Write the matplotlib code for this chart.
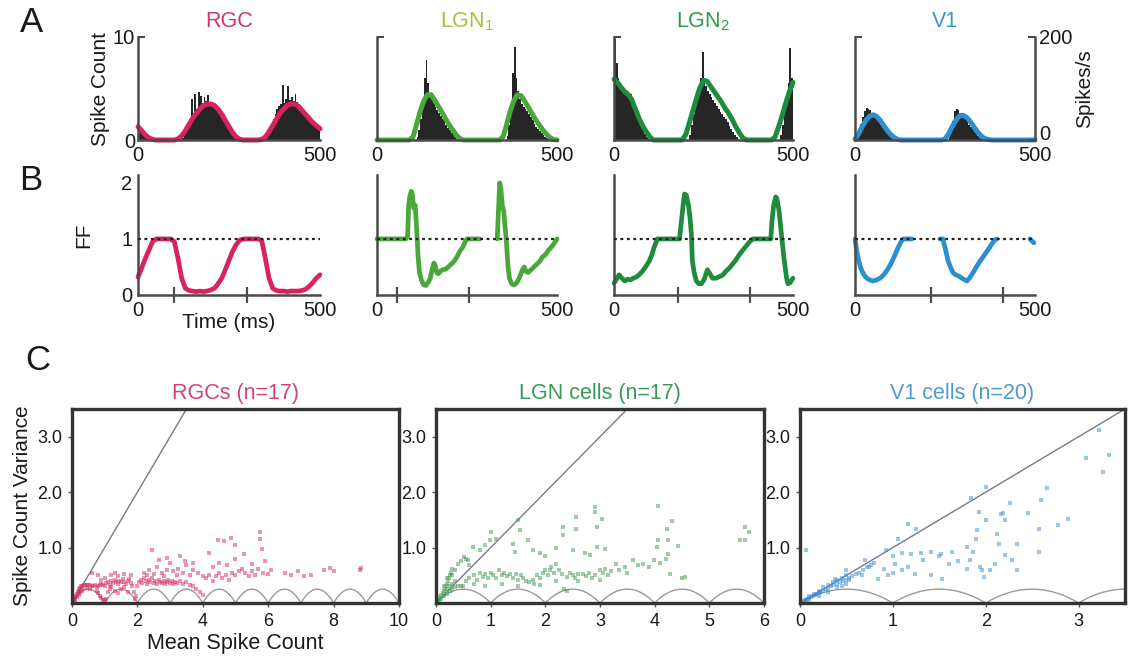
import numpy as np
import matplotlib
matplotlib.use('Agg')
import matplotlib.pyplot as plt

plt.rcParams['font.family'] = ['Liberation Sans', 'DejaVu Sans']
plt.rcParams['mathtext.default'] = 'regular'

# ---------------- data ----------------
cells = ['RGC', 'LGN$_1$', 'LGN$_2$', 'V1']
line_cols = ['#d8245a', '#4aa83a', '#1e8c3c', '#2c8fd0']
title_cols = ['#d6336a', '#a5c23a', '#2d9a4e', '#3a97cf']

# Panel A: PSTH (5 ms bins, spike count) and smoothed rate (10 ms steps)
hist_rgc = ([1.5, 1.3, 1.0, 0.8, 0.5, 0.3, 0.2, 0.1] + [0] * 16 +
            [0.2, 0.6, 1.0, 1.5, 2.0, 4.0, 2.6, 4.5, 3.0, 4.7, 4.3, 3.6, 4.2, 3.8, 4.4, 3.6,
             3.7, 3.4, 3.2, 3.0, 2.8, 2.6, 2.3, 2.5, 1.8, 1.4, 1.0, 0.7, 0.4, 0.2, 0.1, 0.05] +
            [0] * 14 +
            [0.2, 0.5, 1.0, 1.5, 2.0, 2.5, 3.0, 3.3, 3.5, 5.3, 3.6, 4.0, 5.2, 3.9, 4.2, 3.8,
             4.5, 3.7, 3.5, 3.3, 3.0, 2.7, 2.5, 2.2, 2.0, 1.8, 1.6, 1.4, 1.3, 1.0])
hist_lgn1 = ([0] * 22 +
             [0.3, 1.0, 2.0, 3.5, 6.0, 7.8, 5.5, 4.5, 4.0, 3.6, 3.2, 2.9, 2.6, 2.3, 2.0, 1.8,
              1.5, 1.2, 1.0, 0.7, 0.5, 0.3, 0.1] + [0] * 27 +
             [0.4, 1.5, 3.0, 6.5, 9.0, 6.0, 4.8, 4.0, 3.5, 3.2, 3.0, 2.8, 2.5, 2.2, 1.9, 1.6,
              1.3, 1.1, 0.9, 0.7, 0.5, 0.3, 0.15, 0.05] + [0] * 4)
hist_lgn2 = ([9.8, 7.5, 6.0, 5.5, 5.0, 4.8, 4.6, 4.4, 4.2, 4.5, 3.8, 3.3, 2.8, 2.3, 1.8, 1.3,
              0.9, 0.6, 0.3, 0.1] + [0] * 22 +
             [0.5, 1.5, 2.5, 3.5, 4.3, 5.0, 6.0, 8.5, 6.0, 5.2, 4.8, 4.5, 4.2, 3.9, 3.6, 3.3,
              3.0, 2.7, 2.5, 2.2, 2.0, 1.7, 1.4, 1.1, 0.8, 0.5, 0.3, 0.1] + [0] * 23 +
             [0.5, 1.5, 2.8, 4.0, 5.5, 8.9, 6.0])
hist_v1 = ([0.3, 0.8, 1.2, 1.6, 2.2, 2.8, 3.1, 3.0, 2.9, 2.6, 2.4, 2.2, 2.0, 1.7, 1.5, 1.2,
            1.0, 0.8, 0.6, 0.4, 0.3, 0.15, 0.05] + [0] * 29 +
           [0.3, 0.9, 1.8, 2.8, 3.0, 2.9, 2.6, 2.4, 2.3, 2.1, 1.8, 1.5, 1.3, 1.1, 0.8, 0.6,
            0.4, 0.2, 0.1] + [0] * 29)

rate_rgc = [1.3, 0.9, 0.5, 0.2, 0.05, 0, 0, 0, 0, 0, 0, 0.1, 0.4, 0.9, 1.5, 2.1, 2.6, 3.0,
            3.35, 3.5, 3.5, 3.35, 3.0, 2.5, 1.9, 1.3, 0.7, 0.3, 0.05, 0, 0, 0, 0, 0, 0.05,
            0.3, 0.8, 1.4, 2.0, 2.6, 3.0, 3.35, 3.5, 3.5, 3.3, 2.9, 2.5, 2.1, 1.7, 1.4, 1.1]
rate_lgn1 = ([0] * 10 + [0.3, 1.5, 2.8, 3.8, 4.4, 4.4, 3.9, 3.3, 2.7, 2.1, 1.5, 1.0, 0.5, 0.15, 0] +
             [0] * 10 + [0.3, 1.5, 2.8, 3.8, 4.4, 4.3, 3.8, 3.2, 2.6, 2.0, 1.5, 1.0, 0.6, 0.25,
                         0.05, 0])
rate_lgn2 = ([5.9, 5.6, 5.1, 4.7, 4.4, 3.9, 3.0, 2.1, 1.4, 0.8, 0.3, 0] + [0] * 8 +
             [0.5, 1.6, 2.8, 4.0, 5.1, 5.8, 5.7, 5.2, 4.7, 4.2, 3.7, 3.1, 2.6, 2.0, 1.3, 0.7,
              0.2, 0] + [0] * 7 + [0.3, 1.3, 2.4, 3.6, 4.7, 5.6])
rate_v1 = ([0.1, 0.6, 1.3, 1.9, 2.3, 2.45, 2.3, 1.9, 1.4, 0.9, 0.5, 0.2, 0.05] + [0] * 12 +
           [0.1, 0.6, 1.3, 1.9, 2.35, 2.4, 2.2, 1.8, 1.3, 0.8, 0.4, 0.15, 0.05] + [0] * 13)

hists = [hist_rgc, hist_lgn1, hist_lgn2, hist_v1]
rates = [rate_rgc, rate_lgn1, rate_lgn2, rate_v1]
HIST_BIN = 5
RATE_STEP = 10

# Panel B: Fano factor traces (time in ms, FF); nan = gap
ff_t_rgc = list(np.arange(51) * 10)
ff_rgc = [0.32, 0.48, 0.65, 0.8, 0.95, 1.0, 1.0, 1.0, 1.0, 1.0, 0.95, 0.65, 0.3, 0.12, 0.08,
          0.07, 0.06, 0.07, 0.06, 0.07, 0.09, 0.12, 0.2, 0.3, 0.45, 0.62, 0.78, 0.9, 0.98, 1.0,
          1.0, 1.0, 1.0, 1.0, 0.97, 0.65, 0.3, 0.12, 0.08, 0.07, 0.07, 0.06, 0.07, 0.07, 0.07,
          0.08, 0.1, 0.15, 0.22, 0.3, 0.36]
ff_t_lgn1 = [0, 20, 40, 60, 80, 85, 88, 91, 95, 98, 102, 106, 110, 114, 118, 124, 130, 136,
             142, 148, 153, 158, 162, 166, 170, 176, 182, 190, 198, 206, 214, 222, 230, 238,
             245, 250, 260, 270, 285, 300, 334, 338, 341, 344, 348, 352, 356, 360, 364, 368,
             374, 380, 386, 392, 398, 404, 409, 414, 420, 428, 436, 444, 452, 460, 468, 476,
             484, 492, 500]
ff_lgn1 = [1.0, 1.0, 1.0, 1.0, 1.0, 1.05, 1.6, 1.75, 1.85, 1.8, 1.55, 1.6, 1.2, 0.7, 0.4,
           0.25, 0.18, 0.17, 0.22, 0.3, 0.45, 0.57, 0.52, 0.4, 0.38, 0.42, 0.45, 0.46, 0.5,
           0.55, 0.6, 0.68, 0.78, 0.85, 0.95, 1.0, 1.0, 1.0, 1.0, np.nan, 1.0, 1.6, 2.0, 1.9,
           1.6, 1.5, 1.2, 0.9, 0.5, 0.3, 0.2, 0.18, 0.2, 0.26, 0.35, 0.45, 0.5, 0.42, 0.4,
           0.45, 0.5, 0.55, 0.6, 0.68, 0.72, 0.8, 0.85, 0.92, 1.0]
ff_t_lgn2 = [0, 7, 14, 22, 30, 38, 46, 54, 62, 70, 79, 88, 98, 106, 112, 117, 121, 130, 150,
             170, 183, 188, 193, 197, 202, 208, 212, 216, 219, 224, 230, 237, 244, 252, 261,
             268, 275, 285, 295, 303, 312, 322, 331, 340, 350, 360, 370, 379, 388, 400, 420,
             438, 441, 446, 452, 455, 461, 465, 469, 474, 478, 482, 486, 492, 500]
ff_lgn2 = [0.21, 0.28, 0.36, 0.3, 0.25, 0.28, 0.27, 0.3, 0.32, 0.36, 0.42, 0.5, 0.6, 0.72,
           0.85, 0.93, 1.0, 1.0, 1.0, 1.0, 1.0, 1.3, 1.6, 1.8, 1.78, 1.6, 1.4, 1.1, 0.6, 0.4,
           0.25, 0.2, 0.2, 0.28, 0.45, 0.38, 0.3, 0.3, 0.33, 0.35, 0.42, 0.48, 0.55, 0.62,
           0.72, 0.8, 0.88, 0.95, 1.0, 1.0, 1.0, 1.0, 1.3, 1.6, 1.75, 1.72, 1.5, 1.25, 1.0,
           0.7, 0.5, 0.3, 0.2, 0.22, 0.3]
ff_t_v1 = [0, 5, 10, 15, 20, 27, 33, 40, 50, 60, 70, 80, 90, 100, 110, 120, 128, 134, 145,
           158, 200, 236, 244, 250, 258, 265, 272, 280, 290, 297, 305, 311, 318, 328, 337, 347,
           358, 369, 379, 388, 394, 440, 486, 492, 497]
ff_v1 = [1.0, 0.78, 0.62, 0.5, 0.42, 0.34, 0.3, 0.27, 0.25, 0.27, 0.3, 0.36, 0.45, 0.56, 0.7,
         0.85, 0.95, 1.0, 1.0, 1.0, np.nan, 1.0, 1.0, 0.85, 0.62, 0.5, 0.4, 0.36, 0.33, 0.3,
         0.27, 0.25, 0.3, 0.4, 0.5, 0.6, 0.7, 0.8, 0.9, 0.98, 1.0, np.nan, 1.0, 0.96, 0.93]
ff_ts = [ff_t_rgc, ff_t_lgn1, ff_t_lgn2, ff_t_v1]
ffs = [ff_rgc, ff_lgn1, ff_lgn2, ff_v1]
cycle_marks = [[100, 300], [55, 255], [180, 380], [210, 410]]

# Panel C: mean vs variance of spike counts
rgc_points = [
    (0.02, 0.01), (0.04, 0.03), (0.06, 0.06), (0.08, 0.08), (0.1, 0.1), (0.12, 0.13), (0.15, 0.16),
    (0.18, 0.2), (0.2, 0.22), (0.22, 0.25), (0.25, 0.27), (0.28, 0.3), (0.32, 0.31), (0.36, 0.32),
    (0.4, 0.33), (0.45, 0.33), (0.5, 0.32), (0.55, 0.33), (0.6, 0.31), (0.65, 0.3), (0.7, 0.32),
    (0.1, 0.05), (0.15, 0.1), (0.2, 0.14), (0.25, 0.18), (0.3, 0.22), (0.35, 0.25), (0.45, 0.27),
    (0.55, 0.26), (0.75, 0.22), (0.8, 0.18), (0.85, 0.13), (0.9, 0.09), (0.95, 0.06), (1.0, 0.05),
    (1.05, 0.08), (0.75, 0.28), (0.8, 0.3), (0.85, 0.33), (0.9, 0.35), (0.95, 0.32), (1.0, 0.3),
    (1.05, 0.36), (1.1, 0.38), (1.15, 0.33), (1.2, 0.4), (1.25, 0.36), (1.3, 0.42), (1.35, 0.38),
    (1.4, 0.35), (1.45, 0.4), (1.5, 0.37), (1.55, 0.43), (1.6, 0.38), (1.65, 0.35), (1.7, 0.4),
    (1.75, 0.44), (1.8, 0.36), (1.85, 0.3), (1.9, 0.2), (1.95, 0.12), (1.92, 0.08), (1.1, 0.2),
    (1.15, 0.25), (1.2, 0.28), (1.3, 0.22), (1.4, 0.18), (1.5, 0.25), (1.6, 0.28), (1.7, 0.2),
    (0.6, 0.55), (0.8, 0.5), (1.0, 0.45), (1.2, 0.5), (1.4, 0.48), (1.6, 0.52), (1.8, 0.5),
    (0.9, 0.42), (1.3, 0.55), (2.0, 0.3), (2.05, 0.38), (2.1, 0.42), (2.15, 0.36), (2.2, 0.45),
    (2.25, 0.4), (2.3, 0.35), (2.35, 0.42), (2.4, 0.38), (2.45, 0.45), (2.5, 0.36), (2.55, 0.4),
    (2.6, 0.35), (2.65, 0.42), (2.7, 0.38), (2.75, 0.36), (2.8, 0.4), (2.85, 0.34), (2.9, 0.37),
    (2.95, 0.42), (3.0, 0.36), (3.05, 0.4), (3.1, 0.35), (3.15, 0.38), (3.2, 0.36), (3.3, 0.4),
    (3.4, 0.35), (3.5, 0.38), (3.6, 0.33), (3.7, 0.3), (3.8, 0.25), (3.9, 0.2), (4.0, 0.15),
    (2.2, 0.55), (2.35, 0.6), (2.5, 0.52), (2.6, 0.65), (2.75, 0.55), (2.9, 0.6), (3.0, 0.72),
    (3.1, 0.58), (3.25, 0.62), (3.4, 0.55), (3.5, 0.68), (3.6, 0.5), (3.7, 0.6), (3.85, 0.55),
    (4.0, 0.48), (2.45, 0.95), (2.65, 0.78), (2.9, 0.82), (3.3, 0.85), (3.45, 0.75), (3.7, 0.72),
    (2.3, 0.5), (2.8, 0.48), (3.2, 0.5), (4.1, 0.45), (4.2, 0.5), (4.3, 0.4), (4.4, 0.48),
    (4.5, 0.55), (4.6, 0.45), (4.7, 0.5), (4.8, 0.42), (4.9, 0.55), (5.0, 0.5), (5.1, 0.58),
    (5.2, 0.62), (5.3, 0.55), (5.4, 0.48), (5.5, 0.58), (5.6, 0.5), (5.7, 0.62), (5.85, 0.55),
    (6.0, 0.52), (6.1, 0.6), (4.3, 0.65), (4.5, 0.72), (4.75, 0.68), (5.0, 0.8), (5.25, 0.88),
    (5.5, 0.7), (5.9, 0.75), (4.45, 1.14), (4.65, 1.12), (4.85, 1.18), (5.0, 1.05), (5.75, 1.28),
    (5.75, 1.16), (5.8, 0.97), (4.2, 0.9), (6.5, 0.55), (6.7, 0.5), (6.9, 0.58), (7.1, 0.48),
    (7.3, 0.5), (7.7, 0.6), (7.9, 0.64), (8.0, 0.58), (8.85, 0.63), (8.8, 0.6)]
lgn_points = [
    (0.02, 0.02), (0.04, 0.05), (0.06, 0.08), (0.08, 0.1), (0.1, 0.14), (0.12, 0.18), (0.14, 0.22),
    (0.16, 0.25), (0.18, 0.3), (0.2, 0.35), (0.22, 0.4), (0.24, 0.45), (0.26, 0.5), (0.28, 0.55),
    (0.3, 0.62), (0.05, 0.03), (0.1, 0.08), (0.15, 0.12), (0.2, 0.17), (0.25, 0.22), (0.3, 0.25),
    (0.35, 0.28), (0.4, 0.3), (0.45, 0.3), (0.5, 0.3), (0.2, 0.25), (0.25, 0.3), (0.3, 0.35),
    (0.35, 0.4), (0.15, 0.3), (0.2, 0.45), (0.3, 0.5), (0.35, 0.6), (0.4, 0.7), (0.45, 0.75),
    (0.52, 0.83), (0.58, 0.77), (0.61, 0.68), (0.55, 0.8), (0.67, 1.01), (0.98, 1.13), (1.01, 1.28),
    (1.1, 1.16), (1.41, 1.07), (1.44, 0.92), (1.5, 1.49), (1.53, 1.31), (1.68, 1.13), (1.77, 0.95),
    (0.8, 0.95), (0.9, 1.05), (0.55, 0.4), (0.6, 0.45), (0.7, 0.5), (0.75, 0.42), (0.8, 0.55),
    (0.86, 0.47), (0.9, 0.52), (0.95, 0.45), (1.0, 0.55), (1.05, 0.5), (1.1, 0.45), (1.16, 0.59),
    (1.2, 0.5), (1.25, 0.55), (1.3, 0.48), (1.35, 0.52), (1.4, 0.45), (1.47, 0.53), (1.5, 0.42),
    (1.55, 0.5), (1.6, 0.45), (1.65, 0.4), (1.7, 0.38), (1.77, 0.41), (1.8, 0.35), (1.85, 0.5),
    (1.9, 0.45), (1.95, 0.55), (2.0, 0.6), (2.05, 0.5), (2.08, 0.59), (2.1, 0.65), (2.15, 0.55),
    (2.2, 0.71), (2.25, 0.6), (2.3, 0.52), (2.35, 0.25), (2.4, 0.22), (2.39, 0.47), (2.45, 0.55),
    (2.5, 0.5), (2.55, 0.45), (2.6, 0.52), (2.69, 0.53), (2.75, 0.48), (2.8, 0.55), (2.85, 0.45),
    (2.9, 0.5), (3.0, 0.59), (3.05, 0.55), (3.1, 0.62), (3.15, 0.5), (3.2, 0.58), (3.3, 0.71),
    (3.35, 0.6), (3.45, 0.65), (3.5, 0.55), (3.61, 0.77), (3.7, 0.68), (3.79, 0.71), (3.9, 0.65),
    (3.98, 0.77), (4.1, 0.72), (4.2, 0.8), (4.28, 0.53), (4.56, 0.47), (4.5, 0.45), (0.7, 0.35),
    (0.9, 0.3), (1.2, 0.35), (1.5, 0.3), (1.9, 0.32), (2.2, 0.4), (2.6, 0.4), (3.0, 0.42),
    (2.9, 1.73), (2.9, 1.64), (3.03, 1.52), (2.94, 1.37), (2.32, 1.37), (2.32, 1.22), (2.57, 1.55),
    (2.57, 1.33), (2.94, 1.01), (3.09, 0.98), (2.72, 0.9), (2.81, 0.86), (4.07, 1.75), (4.31, 1.48),
    (4.22, 1.34), (4.43, 1.02), (4.25, 1.13), (4.07, 1.13), (4.04, 1.01), (4.25, 0.89), (5.66, 1.37),
    (5.72, 1.28), (5.57, 1.13), (5.66, 1.13), (2.0, 0.85), (2.5, 0.95), (1.9, 0.9), (2.2, 1.0)]
v1_points = [
    (0.02, 0.02), (0.04, 0.04), (0.06, 0.05), (0.08, 0.07), (0.1, 0.09), (0.12, 0.11), (0.14, 0.13),
    (0.16, 0.15), (0.18, 0.16), (0.2, 0.18), (0.22, 0.2), (0.25, 0.22), (0.28, 0.25), (0.3, 0.27),
    (0.33, 0.3), (0.36, 0.32), (0.4, 0.35), (0.43, 0.38), (0.46, 0.4), (0.5, 0.42), (0.53, 0.45),
    (0.56, 0.48), (0.6, 0.52), (0.64, 0.55), (0.68, 0.6), (0.72, 0.65), (0.76, 0.68), (0.8, 0.72),
    (0.05, 0.06), (0.1, 0.12), (0.15, 0.16), (0.2, 0.22), (0.25, 0.28), (0.3, 0.33), (0.35, 0.38),
    (0.4, 0.42), (0.45, 0.46), (0.5, 0.5), (0.1, 0.06), (0.2, 0.12), (0.3, 0.2), (0.4, 0.28),
    (0.45, 0.3), (0.5, 0.35), (0.53, 0.41), (0.38, 0.44), (0.49, 0.59), (0.67, 0.5), (0.7, 0.77),
    (0.74, 0.65), (0.84, 0.44), (0.9, 0.62), (0.93, 0.95), (1.02, 0.71), (1.06, 1.16), (1.16, 1.43),
    (1.25, 1.34), (1.16, 0.65), (1.24, 0.53), (1.32, 0.77), (1.41, 0.92), (1.41, 0.5), (1.52, 0.89),
    (1.53, 0.44), (1.64, 0.92), (1.8, 1.01), (1.83, 0.77), (1.8, 0.62), (1.86, 0.92), (1.89, 1.16),
    (1.91, 1.31), (1.93, 1.64), (1.84, 1.89), (2.0, 2.1), (2.0, 1.49), (1.94, 0.65), (1.96, 0.59),
    (1.98, 0.47), (2.12, 1.25), (2.14, 1.07), (2.16, 1.61), (2.19, 1.63), (2.21, 1.49), (2.21, 0.86),
    (2.26, 1.8), (2.28, 0.77), (2.34, 1.07), (2.34, 0.59), (2.46, 1.63), (2.57, 1.33), (2.57, 0.92),
    (2.6, 1.86), (2.66, 2.07), (2.78, 1.4), (2.89, 1.52), (3.08, 2.61), (3.22, 3.12), (3.26, 2.37),
    (3.33, 2.67), (0.06, 0.95), (1.0, 0.85), (1.1, 0.9), (1.2, 0.88), (1.3, 0.9), (1.5, 0.85),
    (1.6, 0.7), (1.7, 0.75), (2.05, 0.6), (2.1, 0.7), (1.0, 0.55), (1.1, 0.6), (0.95, 0.5)]

c_titles = ['RGCs (n=17)', 'LGN cells (n=17)', 'V1 cells (n=20)']
c_title_cols = ['#d4446e', '#379b55', '#4c9cc9']
c_pt_cols = ['#d92a5c', '#3f9b52', '#3a8ed3']
c_points = [rgc_points, lgn_points, v1_points]
c_xmax = [10, 6, 3.5]
c_xticks = [[0, 2, 4, 6, 8, 10], [0, 1, 2, 3, 4, 5, 6], [0, 1, 2, 3]]
c_yticks = [1.0, 2.0, 3.0]

# ---------------- layout ----------------
W, H = 1128, 656
fig = plt.figure(figsize=(W / 100, H / 100), dpi=100)


def ax_at(l, t, r, b):
    return fig.add_axes([l / W, 1 - b / H, (r - l) / W, (b - t) / H])


SP = '#4a4a4a'
TXT = '#1a1a1a'
FS = 14.5
colx = [(138, 320), (377, 557), (614, 793), (855, 1035)]

for i in range(4):
    l, r = colx[i]
    # ----- panel A -----
    ax = ax_at(l, 37, r, 140)
    h = np.array(hists[i], dtype=float)
    edges = np.arange(len(h)) * HIST_BIN
    ax.bar(edges, h, width=HIST_BIN, align='edge', color='#262626', linewidth=0)
    rt = np.arange(len(rates[i])) * RATE_STEP
    ax.plot(rt, rates[i], color=line_cols[i], lw=3.6, clip_on=False, solid_capstyle='round')
    ax.set_xlim(0, 500)
    ax.set_ylim(0, 10)
    for s in ['top', 'right']:
        ax.spines[s].set_visible(False)
    for s in ['left', 'bottom']:
        ax.spines[s].set_color(SP)
        ax.spines[s].set_linewidth(1.8)
    ax.set_xticks([0, 500])
    ax.set_xticklabels(['0', '500'])
    ax.tick_params(axis='x', length=0, pad=4, labelsize=FS, labelcolor=TXT)
    if i == 0:
        ax.set_yticks([0, 10])
        ax.set_yticklabels(['0', '10'])
        ax.set_ylabel('Spike Count', fontsize=FS + 0.5, color=TXT, labelpad=2)
    else:
        ax.set_yticks([10])
        ax.set_yticklabels([''])
    ax.tick_params(axis='y', direction='in', length=5, width=1.5, color=SP, pad=2,
                   labelsize=FS, labelcolor=TXT)
    ax.set_title(cells[i], color=title_cols[i], fontsize=15.5, pad=7)
    if i == 3:
        tw = ax.twinx()
        tw.set_ylim(0, 200)
        tw.set_yticks([0, 200])
        tw.set_yticklabels(['0', '200'])
        for s in ['top', 'left', 'bottom']:
            tw.spines[s].set_visible(False)
        tw.spines['right'].set_color(SP)
        tw.spines['right'].set_linewidth(1.8)
        tw.tick_params(axis='y', direction='in', length=5, width=1.5, color=SP, pad=3,
                       labelsize=FS, labelcolor=TXT)
        tw.get_yticklabels()[0].set_va('baseline')
        tw.set_ylabel('Spikes/s', fontsize=FS + 0.5, color=TXT, labelpad=2)

    # ----- panel B -----
    bx = ax_at(l, 175, r, 295)
    bx.axhline(1, color='#222222', lw=1.6, ls=(0, (1.3, 1.6)), zorder=3)
    bx.plot(ff_ts[i], ffs[i], color=line_cols[i], lw=3.4, clip_on=False,
            solid_capstyle='round', solid_joinstyle='round', zorder=2)
    bx.set_xlim(0, 500)
    bx.set_ylim(0, 2.14)
    for s in ['top', 'right']:
        bx.spines[s].set_visible(False)
    for s in ['left', 'bottom']:
        bx.spines[s].set_color(SP)
        bx.spines[s].set_linewidth(1.8)
    bx.set_xticks([0, 500])
    bx.set_xticklabels(['0', '500'])
    bx.set_xticks(cycle_marks[i], minor=True)
    bx.tick_params(axis='x', which='major', length=0, pad=4, labelsize=FS, labelcolor=TXT)
    bx.tick_params(axis='x', which='minor', direction='inout', length=12, width=1.6, color=SP)
    if i == 0:
        bx.set_yticks([0, 1, 2])
        bx.set_yticklabels(['0', '1', '2'])
        bx.tick_params(axis='y', length=0, pad=4, labelsize=FS, labelcolor=TXT)
        bx.set_ylabel('FF', fontsize=FS + 0.5, color=TXT, labelpad=20)
        bx.set_xlabel('Time (ms)', fontsize=FS + 0.5, color=TXT, labelpad=-5)
    else:
        bx.set_yticks([])

# ----- panel C -----
ccols = [(72, 399), (436, 764), (800, 1125)]
for j in range(3):
    l, r = ccols[j]
    cx = ax_at(l, 409, r, 603)
    xm = c_xmax[j]
    m = np.linspace(0, xm, 2000)
    frac = m - np.floor(m)
    cx.plot(m, frac * (1 - frac), color='#9a9a9a', lw=1.0, zorder=1)
    cx.axline((0, 0), slope=1, color='#7a7a8a', lw=1.0, zorder=1)
    pts = np.array(c_points[j]).T
    cx.scatter(pts[0], pts[1], s=12, marker='s', color=c_pt_cols[j], alpha=0.5,
               linewidths=0, zorder=2)
    cx.set_xlim(0, xm)
    cx.set_ylim(0, 3.5)
    for s in cx.spines.values():
        s.set_color('#333333')
        s.set_linewidth(2.4)
    cx.set_xticks(c_xticks[j])
    cx.set_xticklabels([str(v) for v in c_xticks[j]])
    cx.set_yticks(c_yticks)
    cx.set_yticklabels(['%.1f' % v for v in c_yticks])
    cx.tick_params(axis='both', length=3, width=1, color='#555555', pad=4,
                   labelsize=13, labelcolor=TXT)
    cx.set_title(c_titles[j], color=c_title_cols[j], fontsize=15.5, pad=7)
    if j == 0:
        cx.set_xlabel('Mean Spike Count', fontsize=15.5, color=TXT, labelpad=2)
        cx.set_ylabel('Spike Count Variance', fontsize=15, color=TXT, labelpad=4)

# panel letters
for letter, (px, py) in zip(['A', 'B', 'C'], [(31, 22), (31, 180), (38, 360)]):
    fig.text(px / W, 1 - py / H, letter, fontsize=25, ha='center', va='center', color=TXT)

fig.savefig('out.png', dpi=100)
